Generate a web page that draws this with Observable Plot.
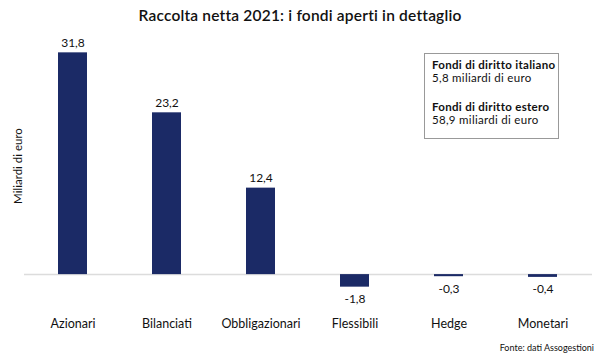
<!DOCTYPE html>
<html>
<head>
<meta charset="utf-8">
<script src="https://cdn.jsdelivr.net/npm/d3@7"></script>
<script src="https://cdn.jsdelivr.net/npm/@observablehq/plot@0.6"></script>
<style>
  html, body { margin: 0; padding: 0; background: #fff; }
  #wrap { position: relative; width: 600px; height: 355px; font-family: Lato, "Open Sans", sans-serif; color: #111; }
  #title { position: absolute; top: 6px; left: 0; width: 600px; text-align: center; font-size: 15.5px; font-weight: 600; letter-spacing: 0.2px; }
  #ylabel { position: absolute; left: 17px; top: 166px; transform: translate(-50%, -50%) rotate(-90deg); font-size: 11.5px; white-space: nowrap; }
  #legend { position: absolute; left: 424px; top: 53px; width: 135px; height: 86px; border: 1px solid #999; box-sizing: border-box; padding: 5px 0 0 7px; font-size: 11.5px; line-height: 12.5px; letter-spacing: 0.3px; white-space: nowrap; }
  #legend .h { font-weight: 700; }
  #legend .gap { height: 17px; }
  #source { position: absolute; right: 6px; top: 342px; font-size: 9px; }
  #chart { position: absolute; left: 0; top: 0; }
</style>
</head>
<body>
<div id="wrap">
  <div id="chart"></div>
  <div id="title"></div>
  <div id="ylabel"></div>
  <div id="legend"></div>
  <div id="source"></div>
</div>
<script>
const categories = ["Azionari", "Bilanciati", "Obbligazionari", "Flessibili", "Hedge", "Monetari"];
const values = [31.8, 23.2, 12.4, -1.8, -0.3, -0.4];
const valueLabels = ["31,8", "23,2", "12,4", "-1,8", "-0,3", "-0,4"];
const titleText = "Raccolta netta 2021: i fondi aperti in dettaglio";
const yLabelText = "Miliardi di euro";
const legendLines = [
  ["Fondi di diritto italiano", "5,8 miliardi di euro"],
  ["Fondi di diritto estero", "58,9 miliardi di euro"]
];
const sourceText = "Fonte: dati Assogestioni";

const data = categories.map((c, i) => ({cat: c, v: values[i], lab: valueLabels[i]}));
const barColor = "#1b2a66";

const chart = Plot.plot({
  width: 600,
  height: 355,
  marginLeft: 24,
  marginRight: 8,
  marginTop: 37,
  marginBottom: 53,
  style: {fontFamily: "Lato, 'Open Sans', sans-serif", fontSize: "12px", color: "#111"},
  x: {domain: categories, paddingInner: 0.69, paddingOuter: 0.35, axis: null},
  y: {domain: [-4, 34], axis: null},
  marks: [
    Plot.ruleY([0], {stroke: "#dcdcdc", strokeWidth: 1.5}),
    Plot.barY(data, {x: "cat", y: "v", fill: barColor}),
    Plot.text(data.filter(d => d.v >= 0), {x: "cat", y: "v", text: "lab", dy: -10, fontSize: 12, fill: "#111"}),
    Plot.text(data.filter(d => d.v < 0), {x: "cat", y: "v", text: "lab", dy: 12, fontSize: 12, fill: "#111"}),
    Plot.axisX({anchor: "bottom", tickSize: 0, tickPadding: 0, label: null, fontSize: 12.5, dy: 17})
  ]
});
document.getElementById("chart").appendChild(chart);

document.getElementById("title").textContent = titleText;
document.getElementById("ylabel").textContent = yLabelText;
document.getElementById("source").textContent = sourceText;
const lg = document.getElementById("legend");
legendLines.forEach((pair, i) => {
  if (i > 0) { const g = document.createElement("div"); g.className = "gap"; lg.appendChild(g); }
  const h = document.createElement("div"); h.className = "h"; h.textContent = pair[0]; lg.appendChild(h);
  const t = document.createElement("div"); t.textContent = pair[1]; lg.appendChild(t);
});
</script>
</body>
</html>
